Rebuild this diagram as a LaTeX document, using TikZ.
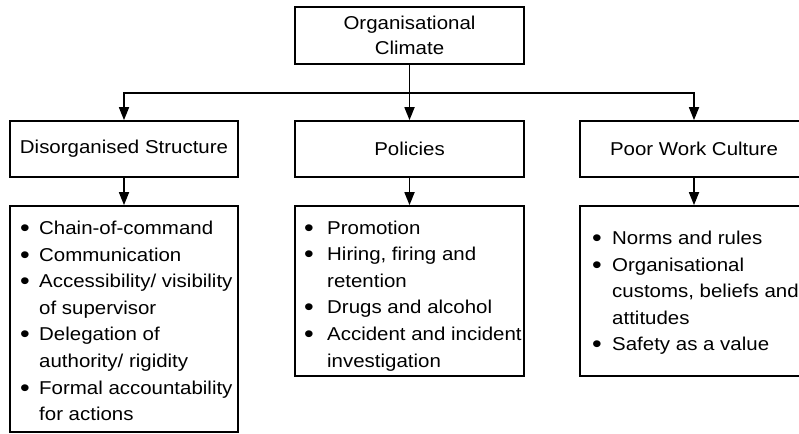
\documentclass[tikz,border=0pt]{standalone}
\usepackage{fontspec}
\setmainfont{Liberation Sans}[FakeStretch=1.1]
\usetikzlibrary{arrows.meta}
\newcommand{\bul}{\raisebox{-2pt}{\scalebox{1.35}{\textbullet}}}
\begin{document}
\begin{tikzpicture}[x=1pt,y=-1pt,
  box/.style={draw,line width=1.7pt,rectangle,inner sep=0pt,align=center,
    font=\fontsize{18.6}{25}\selectfont},
  listtext/.style={anchor=base west,inner sep=0pt,font=\fontsize{18.6}{26.6}\selectfont},
  conn/.style={line width=1.7pt},
  arr/.style={conn,-{Triangle[length=13pt,width=10pt]}}]
\useasboundingbox (0,0) rectangle (799,433);
% boxes
\node[box,minimum width=229pt,minimum height=57pt] (top) at (409.5,35.5) {Organisational\\Climate};
\node[box,minimum width=228pt,minimum height=56pt] (dis) at (124,149) {Disorganised Structure};
\node[box,minimum width=229pt,minimum height=56pt] (pol) at (409.5,149) {Policies};
\node[box,minimum width=228pt,minimum height=56pt] (poor) at (694,149) {Poor Work Culture};
\node[box,minimum width=228pt,minimum height=226pt] (disl) at (124,319) {};
\node[box,minimum width=229pt,minimum height=170pt] (poll) at (409.5,291) {};
\node[box,minimum width=228pt,minimum height=170pt] (poorl) at (694,291) {};
% list texts
\node[listtext] (dist) at (20,234.5) {\begin{tabular}[t]{@{}p{19pt}@{}l@{}}
\bul & Chain-of-command\\
\bul & Communication\\
\bul & Accessibility/ visibility\\
 & of supervisor\\
\bul & Delegation of\\
 & authority/ rigidity\\
\bul & Formal accountability\\
 & for actions
\end{tabular}};
\node[listtext] (polt) at (304,234) {\begin{tabular}[t]{@{}p{23pt}@{}l@{}}
\bul & Promotion\\
\bul & Hiring, firing and\\
 & retention\\
\bul & Drugs and alcohol\\
\bul & Accident and incident\\
 & investigation
\end{tabular}};
\node[listtext] (poort) at (592,244.5) {\begin{tabular}[t]{@{}p{20pt}@{}l@{}}
\bul & Norms and rules\\
\bul & Organisational\\
 & customs, beliefs and\\
 & attitudes\\
\bul & Safety as a value
\end{tabular}};
% connectors
\coordinate (bus) at (409.5,93);
\draw[conn] (top.south) -- (bus);
\draw[arr] (bus) -| (dis.north);
\draw[arr] (top.south) -- (pol.north);
\draw[arr] (bus) -| (poor.north);
\draw[arr] (dis.south) -- (disl.north);
\draw[arr] (pol.south) -- (poll.north);
\draw[arr] (poor.south) -- (poorl.north);
\end{tikzpicture}
\end{document}
